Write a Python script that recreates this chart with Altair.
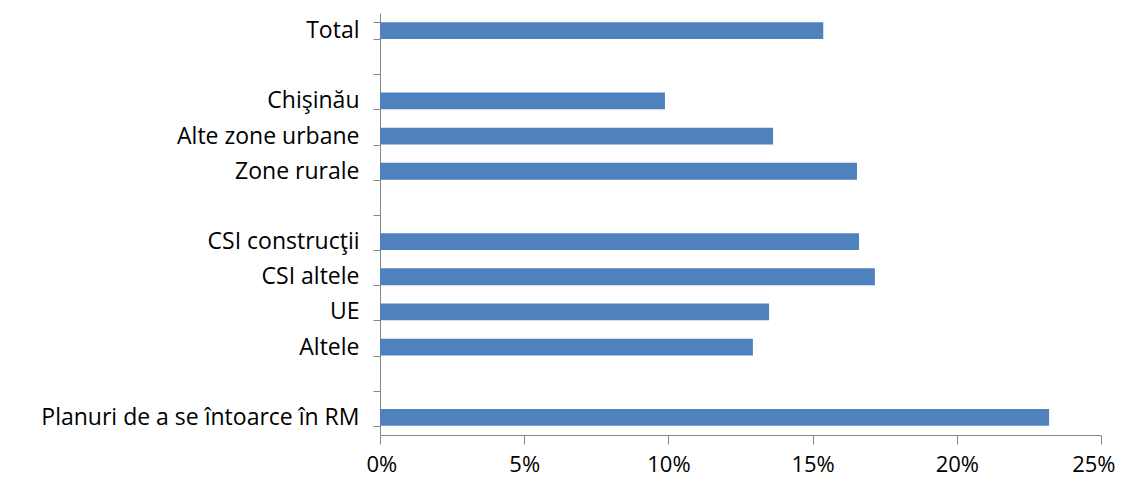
import altair as alt
import pandas as pd

categories = ["Total", " ", "Chişinău", "Alte zone urbane", "Zone rurale", "  ",
              "CSI construcţii", "CSI altele", "UE", "Altele", "   ",
              "Planuri de a se întoarce în RM"]
values = [0.1537, None, 0.0988, 0.1363, 0.1654, None,
          0.1661, 0.1716, 0.1349, 0.1293, None, 0.2320]

df = pd.DataFrame({"cat": categories, "val": values})

font = "Open Sans"

chart = alt.Chart(df).mark_bar(color="#4F81BD").encode(
    y=alt.Y("cat:N", sort=categories, title=None,
            scale=alt.Scale(paddingInner=0.52, paddingOuter=0.26),
            axis=alt.Axis(tickBand="extent", domainColor="#868686", tickColor="#868686",
                          tickSize=7, labelFont=font, labelFontSize=23, labelColor="#000000",
                          labelPadding=14, labelLimit=400, grid=False)),
    x=alt.X("val:Q", title=None,
            scale=alt.Scale(domain=[0, 0.25], nice=False),
            axis=alt.Axis(format="%", values=[0, 0.05, 0.1, 0.15, 0.2, 0.25],
                          domainColor="#868686", tickColor="#868686", tickSize=9,
                          labelFont=font, labelFontSize=22, labelColor="#000000",
                          labelFlush=True, labelFlushOffset=14, labelPadding=10, grid=False)),
).properties(
    width=721, height=422,
    autosize=alt.AutoSizeParams(type="none"),
    padding={"left": 372, "top": 5, "right": 14, "bottom": 40},
).configure_view(stroke=None).configure_axis(domainWidth=1, tickWidth=1)

chart.save("out.html", embed_options={"renderer": "svg", "actions": False})
